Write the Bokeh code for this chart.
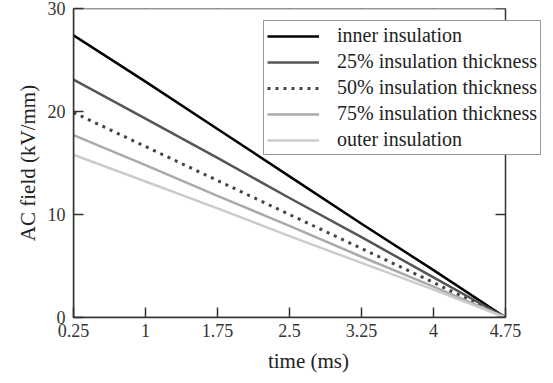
import math
from bokeh.plotting import figure
from bokeh.models import Legend, LegendItem, FixedTicker, Range1d, BoxAnnotation
from bokeh.embed import file_html
from bokeh.resources import INLINE

time_ms = [0.25, 1.0, 1.75, 2.5, 3.25, 4.0, 4.75]
inner = [27.4, 22.9, 18.3, 13.7, 9.1, 4.6, 0.0]
p25 = [23.1, 19.3, 15.5, 11.6, 7.8, 3.9, 0.0]
p50 = [19.9, 16.6, 13.3, 10.0, 6.7, 3.4, 0.0]
p75 = [17.7, 14.8, 11.8, 8.9, 5.9, 3.0, 0.0]
outer = [15.8, 13.2, 10.6, 7.9, 5.3, 2.7, 0.0]
x_ticks = [0.25, 1, 1.75, 2.5, 3.25, 4, 4.75]
y_ticks = [0, 10, 20, 30]
labels = ["inner insulation", "25% insulation thickness", "50% insulation thickness",
          "75% insulation thickness", "outer insulation"]

FONT = '"Liberation Serif", serif'
AXIS_COLOR = "#333333"
X0, X1 = 0.25, 4.75
Y0, Y1 = 0, 30
# the frame reaches under the legend, which overhangs the right border of the axes box
X_EXT = X0 + (X1 - X0) * 470 / 432

p = figure(width=553, height=383, output_backend="svg", toolbar_location=None,
           x_range=Range1d(X0, X_EXT), y_range=Range1d(Y0, Y1),
           min_border_left=73, min_border_right=10, min_border_top=8, min_border_bottom=66)
p.background_fill_color = "white"
p.border_fill_color = "white"
p.grid.visible = False
p.outline_line_color = None

r1 = p.line(time_ms, inner, line_color="#000000", line_width=2.5)
r2 = p.line(time_ms, p25, line_color="#555555", line_width=2.5)
r3 = p.line(time_ms, p50, line_color="#444444", line_width=3, line_dash="3 5")
r4 = p.line(time_ms, p75, line_color="#aaaaaa", line_width=2.5)
r5 = p.line(time_ms, outer, line_color="#cccccc", line_width=2.5)

for ax in (p.xaxis[0], p.yaxis[0]):
    ax.major_tick_in = 10
    ax.major_tick_out = 0
    ax.minor_tick_in = 0
    ax.minor_tick_out = 0
    ax.axis_line_color = AXIS_COLOR
    ax.axis_line_width = 1.5
    ax.major_tick_line_color = AXIS_COLOR
    ax.major_tick_line_width = 1.5
    ax.major_label_text_font = FONT
    ax.major_label_text_font_size = "18px"
    ax.major_label_text_color = "#333333"
    ax.axis_label_text_font = FONT
    ax.axis_label_text_font_size = "21px"
    ax.axis_label_text_font_style = "normal"
    ax.axis_label_text_color = "#222222"

p.xaxis.ticker = FixedTicker(ticks=x_ticks)
p.yaxis.ticker = FixedTicker(ticks=y_ticks)
p.xaxis.bounds = (X0, X1)
p.xaxis.major_label_overrides = {t: str(t) if t != int(t) else str(int(t)) for t in x_ticks}
p.xaxis.axis_label = "time (ms)"
p.yaxis.axis_label = "AC field (kV/mm)"
p.xaxis.major_label_standoff = 6
p.xaxis.axis_label_standoff = 9
p.yaxis.major_label_standoff = 8

# closed axes box (top and right borders) and inward tick marks on those sides
p.add_layout(BoxAnnotation(left=X0, right=X1, bottom=Y0, top=Y1, fill_alpha=0,
                           line_color=AXIS_COLOR, line_width=1.5, line_alpha=1.0))
p.ray(x=x_ticks, y=[Y1] * len(x_ticks), length=10, length_units="screen",
      angle=math.pi / 2, line_color=AXIS_COLOR, line_width=1.5)
p.ray(x=[X1] * len(y_ticks), y=y_ticks, length=10, length_units="screen",
      angle=math.pi, line_color=AXIS_COLOR, line_width=1.5)

legend = Legend(items=[LegendItem(label=l, renderers=[r]) for l, r in zip(labels, [r1, r2, r3, r4, r5])],
                location=(190, 162))
legend.label_text_font = FONT
legend.label_text_font_size = "20px"
legend.label_text_color = "#222222"
legend.glyph_width = 52
legend.glyph_height = 20
legend.label_height = 20
legend.spacing = 3
legend.padding = 3
legend.margin = 0
legend.label_standoff = 18
legend.border_line_color = "#333333"
legend.border_line_width = 1.2
legend.background_fill_alpha = 1.0
p.add_layout(legend, "center")

open("out.html", "w").write(file_html(p, INLINE))
